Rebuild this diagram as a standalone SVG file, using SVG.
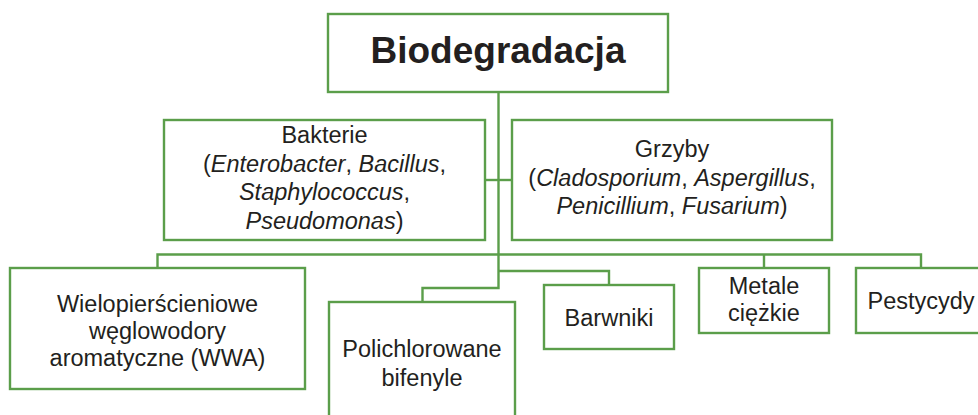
<svg xmlns="http://www.w3.org/2000/svg" width="978" height="415" viewBox="0 0 978 415">
<style>
.box{fill:#fff;stroke:#5b9e4a;stroke-width:2.4}
.ln{fill:none;stroke:#5b9e4a;stroke-width:2.4}
text{font-family:"Liberation Sans",Arial,sans-serif;font-size:23.5px;fill:#231f20;text-anchor:middle}
.t{font-size:37px;font-weight:bold}
.i{font-style:italic}
</style>
<rect width="978" height="415" fill="#fff"/>
<g id="connectors">
<path class="ln" d="M498.5 92V288H422.5V302"/>
<path class="ln" d="M485 180H512"/>
<path class="ln" d="M157.5 268V254.5H921V268"/>
<path class="ln" d="M764 254.5V268"/>
<path class="ln" d="M498.5 271H609V285"/>
</g>
<g id="biodegradacja">
<rect class="box" x="328" y="14" width="340" height="78"/>
<text class="t" x="498" y="63">Biodegradacja</text>
</g>
<g id="bakterie">
<rect class="box" x="164" y="120" width="321" height="120"/>
<text x="324.5" y="143">Bakterie</text>
<text x="324.5" y="171.5">(<tspan class="i">Enterobacter</tspan>, <tspan class="i">Bacillus</tspan>,</text>
<text x="324.5" y="200"><tspan class="i">Staphylococcus</tspan>,</text>
<text x="324.5" y="228.5"><tspan class="i">Pseudomonas</tspan>)</text>
</g>
<g id="grzyby">
<rect class="box" x="512" y="120" width="320" height="120"/>
<text x="672" y="157">Grzyby</text>
<text x="672" y="185.5">(<tspan class="i">Cladosporium</tspan>, <tspan class="i">Aspergillus</tspan>,</text>
<text x="672" y="214"><tspan class="i">Penicillium</tspan>, <tspan class="i">Fusarium</tspan>)</text>
</g>
<g id="wwa">
<rect class="box" x="10" y="268" width="295" height="121"/>
<text x="157.5" y="312">Wielopierścieniowe</text>
<text x="157.5" y="339">węglowodory</text>
<text x="157.5" y="366">aromatyczne (WWA)</text>
</g>
<g id="polichlorowane">
<rect class="box" x="329" y="302" width="186" height="130"/>
<text x="422" y="357">Polichlorowane</text>
<text x="422" y="386">bifenyle</text>
</g>
<g id="barwniki">
<rect class="box" x="544" y="285" width="130" height="64"/>
<text x="609" y="326">Barwniki</text>
</g>
<g id="metale">
<rect class="box" x="699" y="268" width="130" height="65"/>
<text x="764" y="293.5">Metale</text>
<text x="764" y="321">ciężkie</text>
</g>
<g id="pestycydy">
<rect class="box" x="856" y="268" width="130" height="65"/>
<text x="921" y="308.5">Pestycydy</text>
</g>
</svg>
